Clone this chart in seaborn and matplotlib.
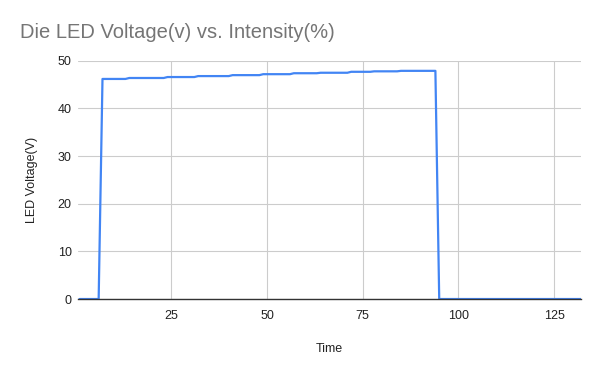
import matplotlib
matplotlib.use("Agg")
import matplotlib.pyplot as plt
import pandas as pd
import seaborn as sns

# breakpoints
time = [1, 6, 7, 13, 14, 23, 24, 31, 32, 40, 41, 48, 49, 56, 57, 63, 64,
        71, 72, 77, 78, 84, 85, 94, 95, 132]
voltage = [0, 0, 46.2, 46.2, 46.4, 46.4, 46.6, 46.6, 46.8, 46.8, 47.0, 47.0,
           47.2, 47.2, 47.4, 47.4, 47.5, 47.5, 47.7, 47.7, 47.8, 47.8,
           47.9, 47.9, 0, 0]
x_ticks = [25, 50, 75, 100, 125]
y_ticks = [0, 10, 20, 30, 40, 50]

df = pd.DataFrame({"Time": time, "LED Voltage(V)": voltage})

sns.set_style("whitegrid")
plt.rcParams['font.family'] = ['Liberation Sans', 'DejaVu Sans']

fig = plt.figure(figsize=(6, 3.71), dpi=100)
ax = fig.add_axes([0.13, 0.194, 0.838, 0.642])

sns.lineplot(data=df, x="Time", y="LED Voltage(V)", ax=ax,
             color="#4285F4", linewidth=1.6)

ax.set_xlim(0.6, 132)
ax.set_ylim(0, 50)
ax.set_xticks(x_ticks)
ax.set_yticks(y_ticks)
ax.grid(True, color="#cccccc", linewidth=0.8)
ax.set_axisbelow(True)
for side in ["left", "right", "top"]:
    ax.spines[side].set_visible(False)
ax.spines["bottom"].set_color("#333333")
ax.spines["bottom"].set_linewidth(1.0)
ax.tick_params(axis="both", length=0, labelsize=9, colors="#222222")
ax.tick_params(axis="x", pad=8)
ax.tick_params(axis="y", pad=4.5)

ax.set_xlabel("Time", fontsize=9, color="#222222", labelpad=15)
ax.set_ylabel("LED Voltage(V)", fontsize=9, color="#222222", labelpad=14)

fig.text(0.033, 1 - 37.7 / 371, "Die LED Voltage(v) vs. Intensity(%)",
         fontsize=14.5, color="#757575", ha="left", va="baseline")

fig.savefig("out.png", dpi=100)
